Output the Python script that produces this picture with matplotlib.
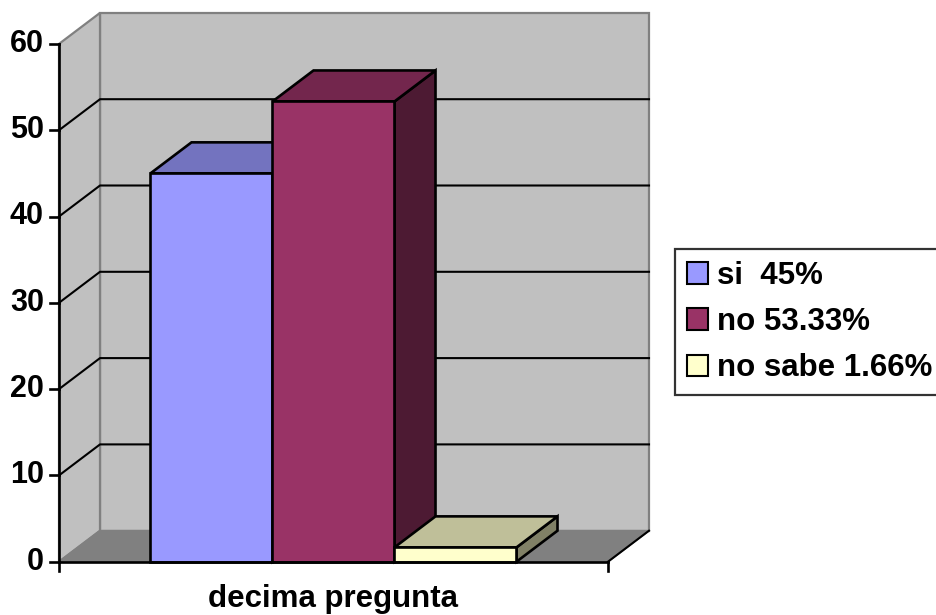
"""3D-style column chart of the answers to the tenth question."""
import matplotlib.pyplot as plt
from matplotlib.patches import Polygon, Patch

categories = ['si', 'no', 'no sabe']
values = [45, 53.33, 1.66]
legend_labels = ['si  45%', 'no 53.33%', 'no sabe 1.66%']
front_colors = ['#9999ff', '#993366', '#ffffcc']
top_colors = ['#7373bf', '#73264d', '#bfbf99']
side_colors = ['#4d4d80', '#4d1a33', '#808066']
y_ticks = [0, 10, 20, 30, 40, 50, 60]
x_label = 'decima pregunta'

W, H, DPI = 937, 615, 100
PX_X, PX_Y = 122.0, 8.63        # pixels per bar width / per value unit
X0, Y0 = 59, 561.7              # pixel position of the front origin
DX, DY = 41 / PX_X, 31 / PX_Y   # depth offset in data units
FLOOR = 4.5                     # floor length in bar widths
BAR_START = 0.75
YMAX = y_ticks[-1]

plt.rcParams['font.family'] = ['Liberation Sans', 'DejaVu Sans']
plt.rcParams['font.weight'] = 'bold'

fig = plt.figure(figsize=(W / DPI, H / DPI), dpi=DPI)
ax = fig.add_axes([0, 0, 1, 1])
ax.set_xlim(-X0 / PX_X, (W - X0) / PX_X)
ax.set_ylim(-(H - Y0) / PX_Y, Y0 / PX_Y)
ax.axis('off')

def poly(pts, fc, ec, lw, z):
    ax.add_patch(Polygon(pts, closed=True, facecolor=fc, edgecolor=ec, lw=lw, zorder=z, joinstyle='miter'))

# walls and floor
grey = '#808080'
poly([(DX, DY), (FLOOR + DX, DY), (FLOOR + DX, YMAX + DY), (DX, YMAX + DY)], '#c0c0c0', grey, 1.6, 1)
poly([(0, 0), (DX, DY), (DX, YMAX + DY), (0, YMAX)], '#c0c0c0', grey, 1.6, 1)
poly([(0, 0), (FLOOR, 0), (FLOOR + DX, DY), (DX, DY)], grey, grey, 1.2, 1)
ax.plot([FLOOR, FLOOR + DX], [0, DY], color='black', lw=1.5, zorder=2)

# gridlines on the side and back walls
for v in y_ticks[1:-1]:
    ax.plot([0, DX, FLOOR + DX], [v, v + DY, v + DY], color='black', lw=1.5, zorder=2)

# columns, left to right so each front face hides the previous side
for i, (v, fc, tc, sc) in enumerate(zip(values, front_colors, top_colors, side_colors)):
    x1, x2 = BAR_START + i, BAR_START + i + 1
    z = 3 + i
    poly([(x2, 0), (x2 + DX, DY), (x2 + DX, v + DY), (x2, v)], sc, 'black', 1.9, z)
    poly([(x1, v), (x2, v), (x2 + DX, v + DY), (x1 + DX, v + DY)], tc, 'black', 1.9, z)
    poly([(x1, 0), (x2, 0), (x2, v), (x1, v)], fc, 'black', 1.9, z)

# front axes
ax.plot([0, 0], [0, YMAX], color='black', lw=1.9, zorder=10)
ax.plot([0, FLOOR], [0, 0], color='black', lw=1.9, zorder=10)
tick_x, tick_y = 9 / PX_X, 9 / PX_Y
for v in y_ticks:
    ax.plot([-tick_x, 0], [v, v], color='black', lw=1.9, zorder=10)
    ax.text(-15 / PX_X, v, str(v), ha='right', va='center', fontsize=22, zorder=10)
for x in [0, FLOOR]:
    ax.plot([x, x], [0, -tick_y], color='black', lw=1.9, zorder=10)

ax.text(BAR_START + len(values) / 2, -(607 - Y0) / PX_Y, x_label, ha='center', va='baseline', fontsize=22.5)

handles = [Patch(facecolor=c, edgecolor='black', lw=1.5) for c in front_colors]
leg = ax.legend(handles, legend_labels, loc='upper left', bbox_to_anchor=(675 / W, 1 - 249 / H),
                bbox_transform=fig.transFigure, fontsize=22.5, frameon=True, fancybox=False,
                borderaxespad=0, borderpad=0.38, handlelength=0.68, handleheight=0.68,
                handletextpad=0.28, labelspacing=0.52)
leg.get_frame().set_edgecolor('black')
leg.get_frame().set_linewidth(1.6)

fig.savefig('out.png', dpi=DPI)
